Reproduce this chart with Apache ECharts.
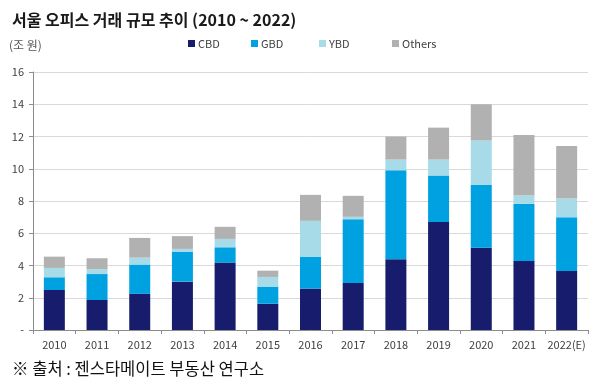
<!DOCTYPE html>
<html><head><meta charset="utf-8">
<script src="https://cdn.jsdelivr.net/npm/echarts@6/dist/echarts.min.js"></script>
<style>html,body{margin:0;padding:0;background:#fff}#c{width:600px;height:389px}</style>
</head><body><div id="c"></div>
<script>
const categories = ['2010','2011','2012','2013','2014','2015','2016','2017','2018','2019','2020','2021','2022(E)'];
const cbd    = [2.48,1.86,2.24,3.00,4.18,1.63,2.57,2.92,4.39,6.70,5.10,4.28,3.66];
const gbd    = [0.79,1.61,1.82,1.86,0.95,1.06,1.98,3.95,5.52,2.88,3.90,3.54,3.33];
const ybd    = [0.58,0.30,0.43,0.17,0.52,0.60,2.22,0.15,0.66,0.99,2.75,0.52,1.16];
const others = [0.70,0.68,1.22,0.79,0.75,0.39,1.61,1.30,1.43,1.98,2.25,3.76,3.26];
const seriesNames = ['CBD','GBD','YBD','Others'];
const colors = ['#171d6c','#00a1e0','#a7dbe8','#b1b1b1'];
const yTicks = {min:0, max:16, interval:2};

const chart = echarts.init(document.getElementById('c'));
const font = '"Noto Sans CJK KR", "Noto Sans", sans-serif';
const mk = (name, data, i) => ({
  name, type:'bar', stack:'s', data, barWidth:21,
  itemStyle:{color:colors[i]}, emphasis:{disabled:true}
});
const legendX = [183, 246, 314, 387];
chart.setOption({
  animation:false,
  textStyle:{fontFamily:font},
  title:[
    {text:'서울 오피스 거래 규모 추이 (2010 ~ 2022)', left:7, top:7,
     textStyle:{fontSize:16, fontWeight:'bold', color:'#1a1a1a', fontFamily:font}},
    {text:'(조 원)', left:4, top:34, textStyle:{fontSize:12, fontWeight:'normal', color:'#555', fontFamily:font}},
    {text:'※ 출처 : 젠스타메이트 부동산 연구소', left:7, top:355,
     textStyle:{fontSize:16.5, fontWeight:'normal', color:'#111', fontFamily:font}}
  ],
  legend: seriesNames.map((n, i) => ({
    data:[n], left:legendX[i], top:33, itemWidth:7, itemHeight:7,
    icon:'rect', textStyle:{fontSize:11, color:'#404040', fontFamily:font, padding:[0,0,0,-2]}
  })),
  grid:{left:33, right:12, top:72, bottom:59},
  xAxis:{
    type:'category', data:categories,
    axisLine:{lineStyle:{color:'#8c8c8c'}},
    axisTick:{show:true, alignWithLabel:false, length:4, lineStyle:{color:'#8c8c8c'}},
    axisLabel:{fontSize:11, color:'#404040', margin:9, interval:0, fontFamily:font}
  },
  yAxis:{
    type:'value', min:yTicks.min, max:yTicks.max, interval:yTicks.interval,
    axisLine:{show:true, lineStyle:{color:'#8c8c8c'}},
    axisTick:{show:true, length:4, lineStyle:{color:'#8c8c8c'}},
    splitLine:{lineStyle:{color:'#d9d9d9'}},
    axisLabel:{fontSize:11, color:'#404040', margin:9, fontFamily:font,
      formatter:v => v === 0 ? '-' : String(v)}
  },
  series:[mk('CBD',cbd,0), mk('GBD',gbd,1), mk('YBD',ybd,2), mk('Others',others,3)]
});
</script></body></html>
